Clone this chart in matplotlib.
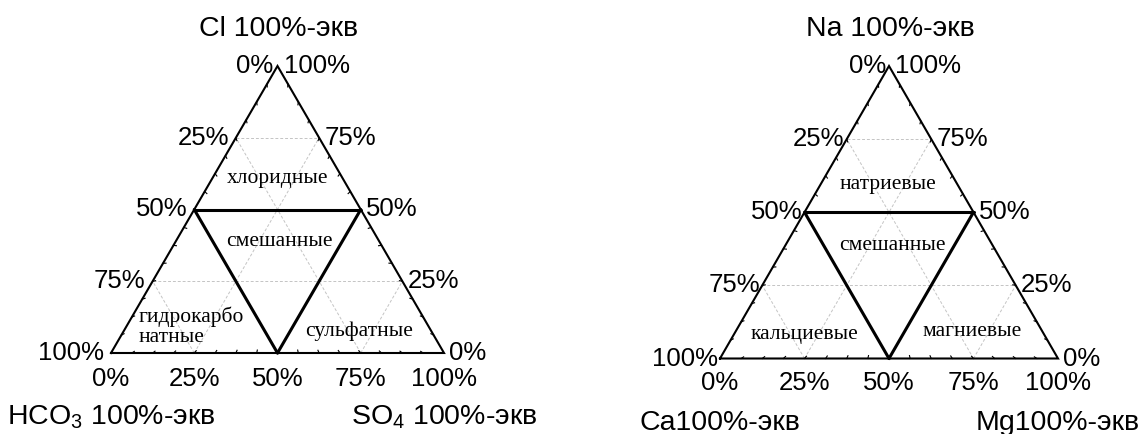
import numpy as np
import matplotlib
matplotlib.use("Agg")
import matplotlib.pyplot as plt

plt.rcParams['font.family'] = ['Liberation Sans', 'DejaVu Sans']
plt.rcParams['mathtext.fontset'] = 'custom'
plt.rcParams['mathtext.rm'] = 'Liberation Sans'

# tick labels along each edge
bottom_labels = ['0%', '25%', '50%', '75%', '100%']       # left -> right
left_labels = ['0%', '25%', '50%', '75%', '100%']         # apex -> bottom-left
right_labels = ['100%', '75%', '50%', '25%', '0%']        # apex -> bottom-right
tick_fracs = [0.0, 0.25, 0.5, 0.75, 1.0]
grid_fracs = [0.25, 0.5, 0.75]
n_minor = 16

# anion diagram
anion_corners = ['Cl 100%-экв', r'HCO$_{\rm 3}$ 100%-экв', r'SO$_{\rm 4}$ 100%-экв']
anion_regions = ['хлоридные', 'смешанные', 'гидрокарбо\nнатные', 'сульфатные']
# cation diagram
cation_corners = ['Na 100%-экв', 'Ca100%-экв', 'Mg100%-экв']
cation_regions = ['натриевые', 'смешанные', 'кальциевые', 'магниевые']

W, H = 1141, 434
fig = plt.figure(figsize=(W / 100, H / 100), dpi=100)
ax = fig.add_axes([0, 0, 1, 1])
ax.set_xlim(0, W)
ax.set_ylim(H, 0)
ax.axis('off')


def draw_ternary(bl, br, top, corners, regions, region_pos, gap_left, label_pad):
    bl, br, top = np.array(bl, float), np.array(br, float), np.array(top, float)
    L = lambda t: top + t * (bl - top)
    R = lambda t: top + t * (br - top)
    B = lambda t: bl + t * (br - bl)

    # light dashed grid
    for t in grid_fracs:
        for p, q in [(L(t), R(t)), (B(t), R(t)), (B(t), L(1 - t))]:
            ax.plot([p[0], q[0]], [p[1], q[1]], color='#c4c4c4', lw=0.7,
                    ls=(0, (3, 2)), zorder=1)

    # outer triangle
    tri = np.array([bl, br, top, bl])
    ax.plot(tri[:, 0], tri[:, 1], color='black', lw=1.5, zorder=3,
            solid_joinstyle='miter')

    # small inward ticks
    cen = (bl + br + top) / 3
    for f in (L, R, B):
        for i in range(1, n_minor):
            p = f(i / n_minor)
            d = cen - p
            d = d / np.linalg.norm(d) * 3
            ax.plot([p[0], p[0] + d[0]], [p[1], p[1] + d[1]], color='black',
                    lw=0.8, zorder=3)

    # thick dividing lines
    for p, q in [(L(0.5), R(0.5)), (L(0.5), B(0.5)), (R(0.5), B(0.5))]:
        ax.plot([p[0], q[0]], [p[1], q[1]], color='black', lw=2.2, zorder=4,
                solid_capstyle='round')

    fs = 18.5
    # apex labels
    ax.text(top[0] - label_pad[0], top[1], left_labels[0], ha='right', va='center', fontsize=fs)
    ax.text(top[0] + label_pad[1], top[1], right_labels[0], ha='left', va='center', fontsize=fs)
    for t, lab in zip(tick_fracs[1:], left_labels[1:]):
        p = L(t)
        ax.text(p[0] - gap_left, p[1], lab, ha='right', va='center', fontsize=fs)
    for t, lab in zip(tick_fracs[1:], right_labels[1:]):
        p = R(t)
        ax.text(p[0] + 5, p[1], lab, ha='left', va='center', fontsize=fs)
    for t, lab in zip(tick_fracs, bottom_labels):
        p = B(t)
        ax.text(p[0], p[1] + label_pad[2], lab, ha='center', va='center', fontsize=fs)

    # corner names
    cfs = 20.5
    ax.text(top[0] + 1, top[1] - 37, corners[0], ha='center', va='center', fontsize=cfs)
    ax.text(bl[0], bl[1] + label_pad[3], corners[1], ha='center', va='center', fontsize=cfs)
    ax.text(br[0], br[1] + label_pad[3], corners[2], ha='center', va='center', fontsize=cfs)

    # region names
    for name, (x, y, ha) in zip(regions, region_pos):
        ax.text(x, y, name, ha=ha, va='center', fontsize=15.5,
                family='Liberation Serif', linespacing=1.1, zorder=5)


draw_ternary((111, 353), (444, 353), (277.5, 66), anion_corners, anion_regions,
             [(278, 178, 'center'), (279, 242, 'center'), (139, 327, 'left'),
              (359, 331, 'center')],
             gap_left=7, label_pad=(4, 7, 26, 64))

draw_ternary((720, 358.5), (1058, 358.5), (889, 66), cation_corners, cation_regions,
             [(888, 184, 'center'), (892, 245, 'center'), (804, 335, 'center'),
              (972, 332, 'center')],
             gap_left=2, label_pad=(3, 6, 24, 64))

fig.savefig('out.png', dpi=100)
